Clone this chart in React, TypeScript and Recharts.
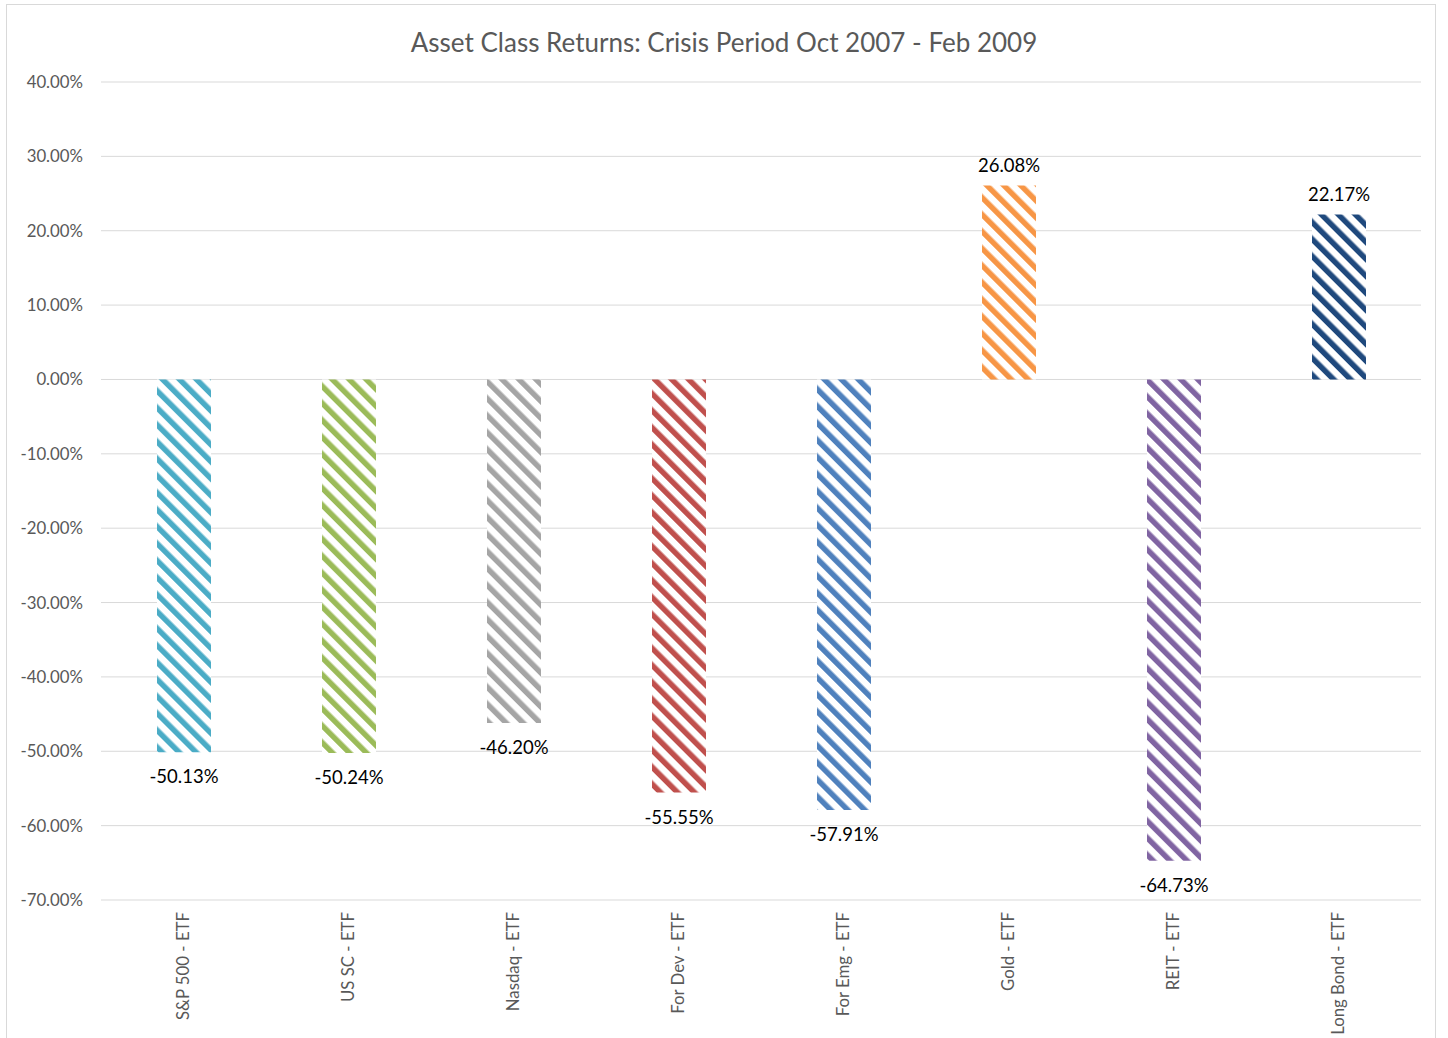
import React from 'react';
import { BarChart, Bar, XAxis, YAxis, CartesianGrid, Cell, LabelList } from 'recharts';

const categories = ['S&P 500 - ETF', 'US SC - ETF', 'Nasdaq - ETF', 'For Dev - ETF', 'For Emg - ETF', 'Gold - ETF', 'REIT - ETF', 'Long Bond - ETF'];
const returns = [-0.5013, -0.5024, -0.462, -0.5555, -0.5791, 0.2608, -0.6473, 0.2217];
const colors = ['#4bacc6', '#9bbb59', '#a5a5a5', '#c0504d', '#4f81bd', '#f79646', '#8064a2', '#1f497d'];
const yTicks = [0.4, 0.3, 0.2, 0.1, 0, -0.1, -0.2, -0.3, -0.4, -0.5, -0.6, -0.7];

const data = categories.map((name, i) => ({ name, value: returns[i] }));

const FONT = 'Lato, "Open Sans", sans-serif';

const fmt = (v: number) => {
  const r = Math.round(v * 10000) / 100;
  return (Object.is(r, -0) ? 0 : r).toFixed(2) + '%';
};

const XTick = (props: any) => {
  const { x, y, payload } = props;
  return (
    <text
      x={x}
      y={y}
      transform={`rotate(-90 ${x} ${y})`}
      textAnchor="end"
      dy="0.35em"
      fill="#595959"
      fontSize={16.8}
      fontFamily={FONT}
    >
      {payload.value}
    </text>
  );
};

const ValueLabel = (props: any) => {
  const { x, y, width, height, value } = props;
  const cx = x + width / 2;
  const top = Math.min(y, y + height);
  const bottom = Math.max(y, y + height);
  const ty = value >= 0 ? top - 21 : bottom + 24;
  return (
    <text x={cx} y={ty} textAnchor="middle" dominantBaseline="central" fill="#000" fontSize={18.5} fontFamily={FONT}>
      {fmt(value)}
    </text>
  );
};

export default function App() {
  return (
    <div style={{ position: 'absolute', left: 0, top: 0, width: 1448, height: 1038, overflow: 'hidden', background: '#fff' }}>
      <div style={{ position: 'absolute', left: 6, top: 4, width: 1430, height: 1100, border: '1px solid #d9d9d9', boxSizing: 'border-box' }} />
      <div style={{ position: 'absolute', left: 0, top: 26, width: 1448, textAlign: 'center', fontFamily: FONT, fontSize: 26, lineHeight: '32px', color: '#595959' }}>
        Asset Class Returns: Crisis Period Oct 2007 - Feb 2009
      </div>
      <div style={{ position: 'absolute', left: 0, top: 0 }}>
        <BarChart width={1448} height={1038} data={data} margin={{ top: 82, right: 27, bottom: 8, left: 6 }} barSize={54}>
          <defs>
            {colors.map((c, i) => (
              <pattern key={i} id={`stripe-${i}`} patternUnits="userSpaceOnUse" width={12} height={12} patternTransform="rotate(-45)">
                <rect x={0} y={0} width={12} height={12} fill="#fff" />
                <rect x={0} y={0} width={5.5} height={12} fill={c} />
              </pattern>
            ))}
          </defs>
          <CartesianGrid vertical={false} stroke="#d9d9d9" strokeWidth={1} />
          <XAxis dataKey="name" axisLine={false} tickLine={false} height={130} tick={<XTick />} interval={0} tickMargin={6} />
          <YAxis
            domain={[-0.7, 0.4]}
            ticks={yTicks}
            tickFormatter={fmt}
            axisLine={false}
            tickLine={false}
            width={95}
            tick={{ fill: '#595959', fontSize: 16.8, fontFamily: FONT }}
            tickMargin={12}
            interval={0}
          />
          <Bar dataKey="value" isAnimationActive={false}>
            {data.map((d, i) => (
              <Cell key={i} fill={`url(#stripe-${i})`} />
            ))}
            <LabelList dataKey="value" content={<ValueLabel />} />
          </Bar>
        </BarChart>
      </div>
    </div>
  );
}
